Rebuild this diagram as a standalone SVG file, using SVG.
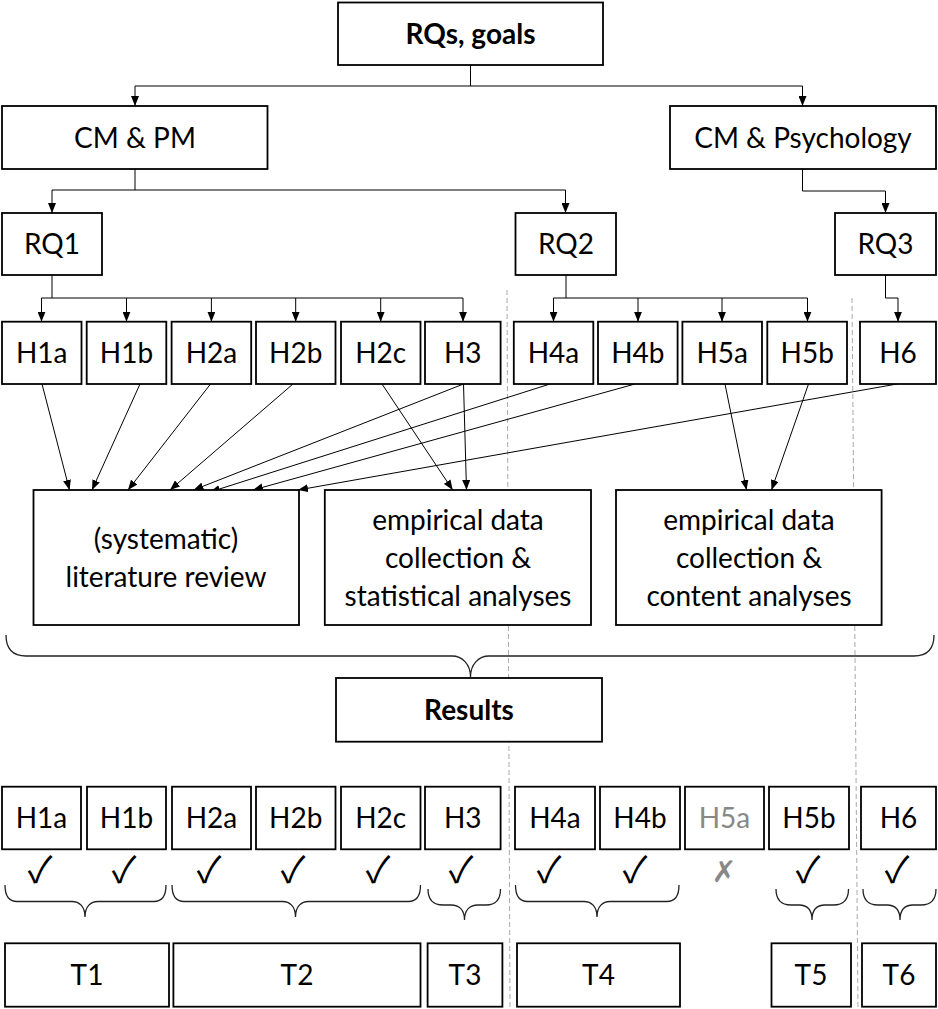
<svg xmlns="http://www.w3.org/2000/svg" width="938" height="1009" viewBox="0 0 938 1009">
<style>
.box{fill:#fff;stroke:#000;stroke-width:1.8}
.t{font-family:Lato,"Liberation Sans",sans-serif;font-size:28px;fill:#000;text-anchor:middle}
.b{font-weight:bold}
.con{fill:none;stroke:#000;stroke-width:1}
.brace{fill:none;stroke:#222;stroke-width:1.3}
.dash{stroke:#aaa;stroke-width:1;stroke-dasharray:5,3}
.chk{font-family:"Noto Sans CJK SC","DejaVu Sans",sans-serif;font-weight:400;font-size:36px;fill:#000;text-anchor:middle}
.x{font-family:"DejaVu Sans",sans-serif;font-size:30px;fill:#888;text-anchor:middle}
</style>
<defs>
<marker id="ah" viewBox="0 0 10 8" refX="10" refY="4" markerWidth="10" markerHeight="8" markerUnits="userSpaceOnUse" orient="auto">
<path d="M0,0 L10,4 L0,8 Z" fill="#000"/>
</marker>
</defs>
<g id="dashed-separators">
<line class="dash" x1="507" y1="290" x2="510" y2="1009"/>
<line class="dash" x1="852" y1="298" x2="858" y2="1009"/>
</g>
<g id="connectors">
<path class="con" d="M470.5,65 V86 M135,86 H802.5"/>
<path class="con" d="M135,86 V106" marker-end="url(#ah)"/>
<path class="con" d="M802.5,86 V106" marker-end="url(#ah)"/>
<path class="con" d="M135,169 V190 H52 V213" marker-end="url(#ah)"/>
<path class="con" d="M135,190 H565.5 V213" marker-end="url(#ah)"/>
<path class="con" d="M802.5,169 V191 H885.5 V213" marker-end="url(#ah)"/>
<path class="con" d="M52,275 V298 M41.5,298 H463"/>
<path class="con" d="M41.5,298 V321.7" marker-end="url(#ah)"/>
<path class="con" d="M126.5,298 V321.7" marker-end="url(#ah)"/>
<path class="con" d="M211.4,298 V321.7" marker-end="url(#ah)"/>
<path class="con" d="M295.7,298 V321.7" marker-end="url(#ah)"/>
<path class="con" d="M380.7,298 V321.7" marker-end="url(#ah)"/>
<path class="con" d="M463,298 V321.7" marker-end="url(#ah)"/>
<path class="con" d="M566,275 V298 M553.5,298 H807.5"/>
<path class="con" d="M553.5,298 V321.7" marker-end="url(#ah)"/>
<path class="con" d="M638,298 V321.7" marker-end="url(#ah)"/>
<path class="con" d="M722,298 V321.7" marker-end="url(#ah)"/>
<path class="con" d="M807.5,298 V321.7" marker-end="url(#ah)"/>
<path class="con" d="M885.5,275 V298 H898 V321.7" marker-end="url(#ah)"/>
<path class="con" d="M42,384 L69.5,490" marker-end="url(#ah)"/>
<path class="con" d="M140,384 L92,490" marker-end="url(#ah)"/>
<path class="con" d="M210.5,384 L128,490" marker-end="url(#ah)"/>
<path class="con" d="M293,384 L170,490" marker-end="url(#ah)"/>
<path class="con" d="M382,384 L452.7,490" marker-end="url(#ah)"/>
<path class="con" d="M463.5,384 L466.5,490" marker-end="url(#ah)"/>
<path class="con" d="M463.5,384 L193.5,490" marker-end="url(#ah)"/>
<path class="con" d="M550,384 L210,492" marker-end="url(#ah)"/>
<path class="con" d="M635,384 L253,490" marker-end="url(#ah)"/>
<path class="con" d="M725,384 L746.5,490" marker-end="url(#ah)"/>
<path class="con" d="M808.5,384 L771.5,490" marker-end="url(#ah)"/>
<path class="con" d="M897,384 L298,490" marker-end="url(#ah)"/>
</g>
<g id="braces">
<path class="brace" d="M6,635 C6,648 12,656 26,656 H452 C462,656 470.5,664 470.5,677 C470.5,664 479,656 489,656 H914 C928,656 934,648 934,635"/>
<path class="brace" d="M5,885 C5,896 9,901.5 17,901.5 H72 C79,901.5 85,906 85,917 C85,906 91,901.5 98,901.5 H154 C162,901.5 166,896 166,885"/>
<path class="brace" d="M172,885 C172,896 176,901.5 184,901.5 H282.5 C289.5,901.5 295.5,906 295.5,917 C295.5,906 301.5,901.5 308.5,901.5 H408.5 C416.5,901.5 420.5,896 420.5,885"/>
<path class="brace" d="M428,889 C428,899 433,905 443,905 H451 C459,905 464.5,910 464.5,920 C464.5,910 470,905 478,905 H486 C496,905 500.5,899 500.5,889"/>
<path class="brace" d="M515.5,885 C515.5,896 519.5,901.5 527.5,901.5 H584 C591,901.5 597,906 597,917 C597,906 603,901.5 610,901.5 H667 C675,901.5 679,896 679,885"/>
<path class="brace" d="M776,889 C776,899 781,905 791,905 H799 C807,905 812,910 812,920 C812,910 817,905 825,905 H833.5 C843.5,905 848.5,899 848.5,889"/>
<path class="brace" d="M863,889 C863,899 868,905 878,905 H887 C895,905 900,910 900,920 C900,910 905,905 913,905 H921 C931,905 936,899 936,889"/>
</g>
<g id="rqs-goals"><rect class="box" x="338" y="2.5" width="265" height="62.5"/><text class="t b" x="470.5" y="44">RQs, goals</text></g>
<g id="cm-pm"><rect class="box" x="2" y="106" width="265.5" height="63"/><text class="t" x="135" y="148">CM &amp; PM</text></g>
<g id="cm-psych"><rect class="box" x="670" y="106" width="266" height="63"/><text class="t" x="803" y="148">CM &amp; Psychology</text></g>
<g id="rq1"><rect class="box" x="2" y="213" width="100" height="62"/><text class="t" x="52" y="254">RQ1</text></g>
<g id="rq2"><rect class="box" x="515.5" y="213" width="100.5" height="62"/><text class="t" x="566" y="254">RQ2</text></g>
<g id="rq3"><rect class="box" x="835" y="213" width="101" height="62"/><text class="t" x="885.5" y="254">RQ3</text></g>
<g id="h1a"><rect class="box" x="2" y="321.7" width="79.5" height="62.3"/><text class="t" x="41.7" y="363">H1a</text></g>
<g id="h1b"><rect class="box" x="86.7" y="321.7" width="79.6" height="62.3"/><text class="t" x="126.5" y="363">H1b</text></g>
<g id="h2a"><rect class="box" x="171.6" y="321.7" width="79.6" height="62.3"/><text class="t" x="211.4" y="363">H2a</text></g>
<g id="h2b"><rect class="box" x="256" y="321.7" width="79.5" height="62.3"/><text class="t" x="295.7" y="363">H2b</text></g>
<g id="h2c"><rect class="box" x="341" y="321.7" width="79.5" height="62.3"/><text class="t" x="380.7" y="363">H2c</text></g>
<g id="h3"><rect class="box" x="425" y="321.7" width="75.6" height="62.3"/><text class="t" x="462.8" y="363">H3</text></g>
<g id="h4a"><rect class="box" x="513.8" y="321.7" width="79.5" height="62.3"/><text class="t" x="553.5" y="363">H4a</text></g>
<g id="h4b"><rect class="box" x="598" y="321.7" width="79.6" height="62.3"/><text class="t" x="637.8" y="363">H4b</text></g>
<g id="h5a"><rect class="box" x="682.4" y="321.7" width="79.6" height="62.3"/><text class="t" x="722.2" y="363">H5a</text></g>
<g id="h5b"><rect class="box" x="767.3" y="321.7" width="79.7" height="62.3"/><text class="t" x="807.2" y="363">H5b</text></g>
<g id="h6"><rect class="box" x="860" y="321.7" width="76" height="62.3"/><text class="t" x="898" y="363">H6</text></g>
<g id="lit-review"><rect class="box" x="33.5" y="490" width="265.5" height="135"/><text class="t" x="166" y="548.5">(systematic)</text><text class="t" x="166" y="586.5">literature review</text></g>
<g id="stat-analyses"><rect class="box" x="324.8" y="490" width="266.2" height="135"/><text class="t" x="458" y="529.5">empirical data</text><text class="t" x="458" y="567.5">collection &amp;</text><text class="t" x="458" y="605.5">statistical analyses</text></g>
<g id="content-analyses"><rect class="box" x="616" y="490" width="265.6" height="135"/><text class="t" x="749" y="529.5">empirical data</text><text class="t" x="749" y="567.5">collection &amp;</text><text class="t" x="749" y="605.5">content analyses</text></g>
<g id="results"><rect class="box" x="336" y="678" width="266" height="63.7"/><text class="t b" x="469" y="720">Results</text></g>
<g id="r-h1a"><rect class="box" x="2" y="786.7" width="79" height="62.6"/><text class="t" x="41.5" y="828">H1a</text></g>
<g id="r-h1b"><rect class="box" x="87" y="786.7" width="79" height="62.6"/><text class="t" x="126.5" y="828">H1b</text></g>
<g id="r-h2a"><rect class="box" x="172" y="786.7" width="79" height="62.6"/><text class="t" x="211.5" y="828">H2a</text></g>
<g id="r-h2b"><rect class="box" x="256" y="786.7" width="79.5" height="62.6"/><text class="t" x="295.7" y="828">H2b</text></g>
<g id="r-h2c"><rect class="box" x="341" y="786.7" width="79.5" height="62.6"/><text class="t" x="380.7" y="828">H2c</text></g>
<g id="r-h3"><rect class="box" x="425" y="786.7" width="75.6" height="62.6"/><text class="t" x="462.8" y="828">H3</text></g>
<g id="r-h4a"><rect class="box" x="515" y="786.7" width="80" height="62.6"/><text class="t" x="555" y="828">H4a</text></g>
<g id="r-h4b"><rect class="box" x="600" y="786.7" width="80" height="62.6"/><text class="t" x="640" y="828">H4b</text></g>
<g id="r-h5a"><rect class="box" x="685" y="786.7" width="79" height="62.6"/><text class="t" x="724.5" y="828" style="fill:#888">H5a</text></g>
<g id="r-h5b"><rect class="box" x="769" y="786.7" width="80" height="62.6"/><text class="t" x="809" y="828">H5b</text></g>
<g id="r-h6"><rect class="box" x="861" y="786.7" width="75" height="62.6"/><text class="t" x="898.5" y="828">H6</text></g>
<g id="marks">
<text class="chk" x="40" y="883">✓</text>
<text class="chk" x="124" y="883">✓</text>
<text class="chk" x="209" y="883">✓</text>
<text class="chk" x="293" y="883">✓</text>
<text class="chk" x="378" y="883">✓</text>
<text class="chk" x="461" y="883">✓</text>
<text class="chk" x="549" y="883">✓</text>
<text class="chk" x="635" y="883">✓</text>
<text class="x" x="724" y="882">✗</text>
<text class="chk" x="808" y="883">✓</text>
<text class="chk" x="897" y="883">✓</text>
</g>
<g id="t1"><rect class="box" x="5" y="943.3" width="164" height="63.4"/><text class="t" x="87" y="985">T1</text></g>
<g id="t2"><rect class="box" x="173.4" y="943.3" width="247.1" height="63.4"/><text class="t" x="297" y="985">T2</text></g>
<g id="t3"><rect class="box" x="427.6" y="943.3" width="74.8" height="63.4"/><text class="t" x="465" y="985">T3</text></g>
<g id="t4"><rect class="box" x="517" y="943.3" width="163" height="63.4"/><text class="t" x="598.5" y="985">T4</text></g>
<g id="t5"><rect class="box" x="771.5" y="943.3" width="79.5" height="63.4"/><text class="t" x="811" y="985">T5</text></g>
<g id="t6"><rect class="box" x="862" y="943.3" width="74" height="63.4"/><text class="t" x="899" y="985">T6</text></g>
</svg>
